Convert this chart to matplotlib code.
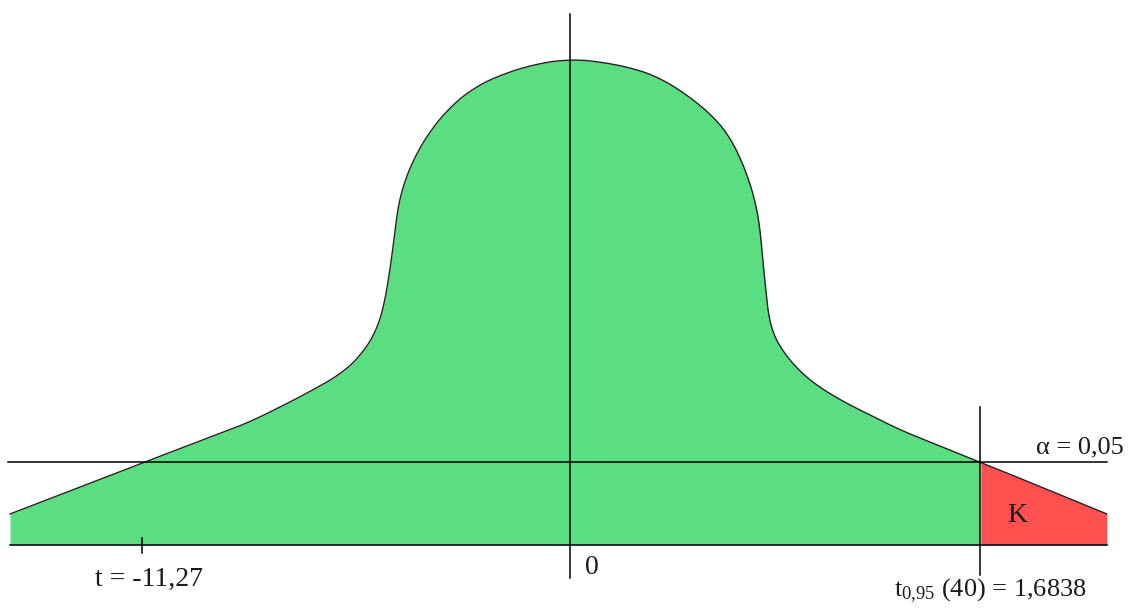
import numpy as np
import matplotlib.pyplot as plt

plt.rcParams['font.family'] = ['Liberation Serif', 'DejaVu Serif']
plt.rcParams['mathtext.fontset'] = 'custom'
plt.rcParams['mathtext.rm'] = 'Liberation Serif'
plt.rcParams['mathtext.it'] = 'Liberation Serif:italic'

# outline of the density (x relative to 0, height above base line)
curve_x = [-560, -420, -320, -270, -227, -217, -207, -200, -193, -187, -182, -178, -176,
           -173, -168, -160, -150, -137, -120, -97, -70, -35, 0, 33, 70, 90, 110, 130,
           147, 160, 170, 178, 185, 189, 191, 195, 198, 200, 207, 217, 230, 243, 270,
           330, 410, 537]
curve_h = [31, 85, 123, 148, 172, 182, 192, 203, 215, 235, 262, 290, 305,
           333, 356, 378, 398, 418, 438, 457, 470, 481, 486, 483, 475, 467, 455, 440,
           425, 408, 388, 368, 345, 325, 305, 262, 235, 218, 202, 188, 173, 162, 145,
           115, 83, 31]

alpha_level = 83      # height of the alpha = 0,05 line
t_crit = 410          # t_{0,95}(40) = 1,6838
t_stat = -428         # t = -11,27
labels = {'alpha': 'α = 0,05', 'stat': 't = -11,27',
          'crit': r'$\mathrm{t}_{0{,}95}$ (40) = 1,6838', 'zero': '0', 'region': 'K'}


def smooth(xs, ys, win=41):
    # resample the traced outline by arc length and take a running mean
    x = np.asarray(xs, float)
    y = np.asarray(ys, float)
    s = np.concatenate([[0], np.cumsum(np.hypot(np.diff(x), np.diff(y)))])
    u = np.arange(0, s[-1], 1.0)
    rx, ry = np.interp(u, s, x), np.interp(u, s, y)
    k = np.ones(win) / win
    pad = win // 2
    rx = np.convolve(np.pad(rx, pad, mode='reflect', reflect_type='odd'), k, mode='valid')
    ry = np.convolve(np.pad(ry, pad, mode='reflect', reflect_type='odd'), k, mode='valid')
    return rx, ry


xs, hs = smooth(curve_x, curve_h)

fig = plt.figure(figsize=(11.33, 6.08), dpi=100)
ax = fig.add_axes([0, 0, 1, 1])
ax.set_xlim(-570, 563)
ax.set_ylim(-63, 545)
ax.axis('off')

green = xs <= t_crit
red = xs >= t_crit
ax.fill_between(xs[green], 0, hs[green], color='#5bdd82', lw=0)
ax.fill_between(xs[red], 0, hs[red], color='#ff5050', lw=0)
ax.plot(xs, hs, color='#222222', lw=1.0)

ax.plot([curve_x[0], curve_x[-1]], [0, 0], color='black', lw=1.1)
ax.plot([curve_x[0] - 2, curve_x[-1]], [alpha_level, alpha_level], color='black', lw=1.1)
ax.plot([0, 0], [-33, 531], color='black', lw=1.1)
ax.plot([t_crit, t_crit], [-30, 138], color='black', lw=1.1)
ax.plot([t_stat, t_stat], [-8, 7], color='black', lw=1.1)

tc = '#1a1a1a'
ax.text(554, alpha_level + 4, labels['alpha'], ha='right', va='bottom', fontsize=19, color=tc)
ax.text(t_stat + 7, -34, labels['stat'], ha='center', va='center', fontsize=20, color=tc)
ax.text(22, -23, labels['zero'], ha='center', va='center', fontsize=20, color=tc)
ax.text(447, 30, labels['region'], ha='center', va='center', fontsize=20, color=tc)
ax.text(420, -46, labels['crit'], ha='center', va='center', fontsize=19, color=tc)

fig.savefig('out.png', dpi=100)
